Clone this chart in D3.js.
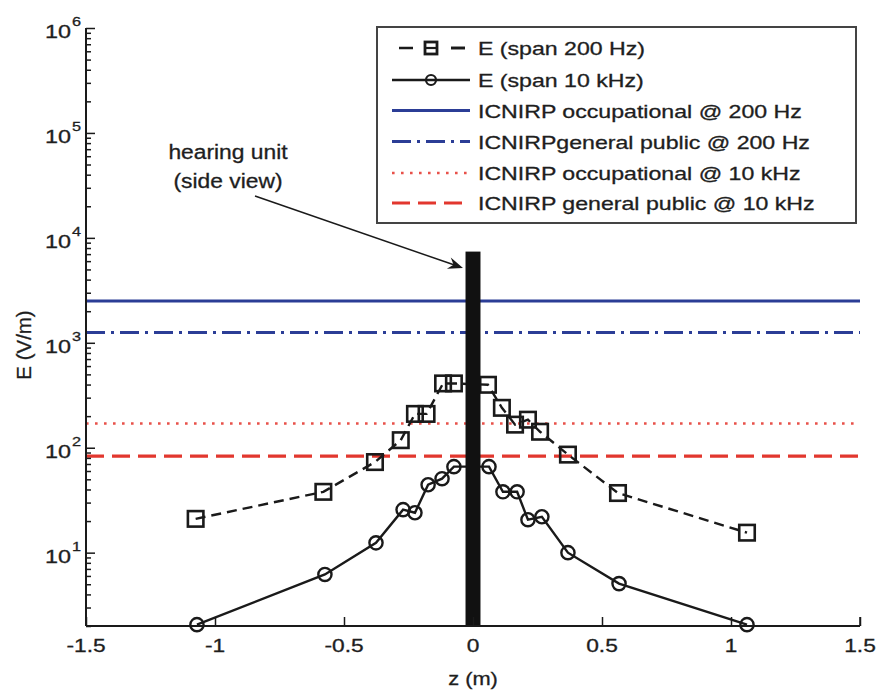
<!DOCTYPE html>
<html>
<head>
<meta charset="utf-8">
<script src="https://cdn.jsdelivr.net/npm/d3@7"></script>
<style>
  body { margin: 0; background: #fff; }
  text { font-family: "Liberation Sans", Arial, sans-serif; fill: #1e1e1e; stroke: #1e1e1e; stroke-width: 0.3; }
</style>
</head>
<body>
<svg id="chart" width="879" height="691"></svg>
<script>
// Field strength along z, 200 Hz span (squares, dashed)
const zSpan200 = [-1.075, -0.58, -0.38, -0.28, -0.225, -0.18, -0.116, -0.074,
                  0.058, 0.112, 0.163, 0.213, 0.26, 0.368, 0.562, 1.062];
const eSpan200 = [21, 38, 73, 118, 210, 210, 410, 410,
                  398, 240, 166, 185, 142, 86, 37, 15.5];

// Field strength along z, 10 kHz span (circles, solid)
const zSpan10k = [-1.07, -0.574, -0.376, -0.271, -0.225, -0.174, -0.12, -0.074,
                  0.062, 0.116, 0.171, 0.213, 0.267, 0.368, 0.566, 1.062];
const eSpan10k = [2.06, 6.2, 12.4, 25.7, 24, 44.4, 50.7, 66,
                  66, 38, 38, 20.6, 22, 10, 5.07, 2.06];

// ICNIRP reference levels (V/m)
const limitNames = ["ICNIRP occupational @ 200 Hz", "ICNIRPgeneral public @ 200 Hz",
                    "ICNIRP occupational @ 10 kHz", "ICNIRP general public @ 10 kHz"];
const limitValues = [2500, 1250, 170, 83];

const seriesNames = ["E (span 200 Hz)", "E (span 10 kHz)"];

// Hearing unit drawn as a block centred on z = 0
const hearingUnitZ = [-0.029, 0.029];
const hearingUnitTop = 7400;

const xTickValues = [-1.5, -1, -0.5, 0, 0.5, 1, 1.5];
const xTickLabels = ["-1.5", "-1", "-0.5", "0", "0.5", "1", "1.5"];
const yTickExponents = [1, 2, 3, 4, 5, 6];

const svg = d3.select("#chart");
const W = 879, H = 691;
const plot = { left: 86, right: 860, top: 28, bottom: 626 };

const x = d3.scaleLinear().domain([-1.5, 1.5]).range([plot.left, plot.right]);
const y = d3.scaleLog().domain([2, 1e6]).range([plot.bottom, plot.top]);

svg.append("rect").attr("width", W).attr("height", H).attr("fill", "#fff");

// Wide text helper: the labels are set with horizontally stretched glyphs
function wideText(parent, px, py, str, size, sx, anchor, rotate) {
  const g = parent.append("g")
    .attr("transform", `translate(${px},${py})` + (rotate ? ` rotate(${rotate})` : "") + ` scale(${sx},1)`);
  return g.append("text")
    .attr("text-anchor", anchor || "start")
    .attr("font-size", size)
    .text(str);
}

const blue = "#2b3d96";
const red = "#e2372e";
const ink = "#1a1a1a";

const limitStyles = [
  { color: blue, width: 3, dash: null },
  { color: blue, width: 3, dash: "19,6,3,6" },
  { color: "#e8514a", width: 2.6, dash: "2.6,6.4" },
  { color: red, width: 3.2, dash: "18,8" }
];

// Reference-level lines
const limitG = svg.append("g");
limitValues.forEach((v, i) => {
  const s = limitStyles[i];
  limitG.append("line")
    .attr("x1", x(-1.5)).attr("x2", x(1.5))
    .attr("y1", y(v)).attr("y2", y(v))
    .attr("stroke", s.color).attr("stroke-width", s.width)
    .attr("stroke-dasharray", s.dash);
});

// Measured series
const line = d3.line().x(d => x(d[0])).y(d => y(d[1]));
const d200 = zSpan200.map((z, i) => [z, eSpan200[i]]);
const d10k = zSpan10k.map((z, i) => [z, eSpan10k[i]]);

svg.append("path").datum(d200).attr("d", line)
  .attr("fill", "none").attr("stroke", ink).attr("stroke-width", 2.4)
  .attr("stroke-dasharray", "10,6");
svg.append("path").datum(d10k).attr("d", line)
  .attr("fill", "none").attr("stroke", ink).attr("stroke-width", 2.4);

const sq = 15.5;
svg.append("g").selectAll("rect").data(d200).join("rect")
  .attr("x", d => x(d[0]) - sq / 2).attr("y", d => y(d[1]) - sq / 2)
  .attr("width", sq).attr("height", sq)
  .attr("fill", "none").attr("stroke", ink).attr("stroke-width", 2.6);
svg.append("g").selectAll("circle").data(d10k).join("circle")
  .attr("cx", d => x(d[0])).attr("cy", d => y(d[1])).attr("r", 6.6)
  .attr("fill", "none").attr("stroke", ink).attr("stroke-width", 2.4);

// Hearing unit block
svg.append("rect")
  .attr("x", x(hearingUnitZ[0]))
  .attr("width", x(hearingUnitZ[1]) - x(hearingUnitZ[0]))
  .attr("y", y(hearingUnitTop))
  .attr("height", plot.bottom - y(hearingUnitTop))
  .attr("fill", "#111");

// Axes (ticks point into the plot)
const xAxis = d3.axisBottom(x).tickValues(xTickValues).tickSize(-9).tickFormat("");
const xg = svg.append("g").attr("transform", `translate(0,${plot.bottom})`).call(xAxis);
const yMajor = yTickExponents.map(e => Math.pow(10, e));
const yMinor = [];
for (let e = 0; e <= 5; e++) for (let m = 2; m <= 9; m++) {
  const v = m * Math.pow(10, e);
  if (v >= 2 && v < 1e6) yMinor.push(v);
}
const ygMinor = svg.append("g").attr("transform", `translate(${plot.left},0)`)
  .call(d3.axisLeft(y).tickValues(yMinor).tickSize(-5).tickFormat(""));
const yg = svg.append("g").attr("transform", `translate(${plot.left},0)`)
  .call(d3.axisLeft(y).tickValues(yMajor).tickSize(-9).tickFormat(""));
[xg, yg, ygMinor].forEach(g => {
  g.selectAll("path.domain").attr("stroke", ink).attr("stroke-width", 2);
  g.selectAll(".tick line").attr("stroke", ink).attr("stroke-width", 1.5);
});
ygMinor.select("path.domain").remove();
xg.select("path.domain").attr("d", `M${plot.left},0H${plot.right}`);
yg.select("path.domain").attr("d", `M0,${plot.top}V${plot.bottom}`);
// short upward cap at the right end of x axis
xg.append("line").attr("x1", plot.right).attr("x2", plot.right).attr("y1", 0).attr("y2", -9)
  .attr("stroke", ink).attr("stroke-width", 1.5);

// Tick labels
const labels = svg.append("g");
xTickValues.forEach((v, i) => {
  wideText(labels, x(v), 652, xTickLabels[i], 17.5, 1.3, "middle");
});
yTickExponents.forEach(e => {
  const ty = y(Math.pow(10, e));
  wideText(labels, 71, ty + 10, "10", 18, 1.3, "end");
  wideText(labels, 72, ty - 2, String(e), 13, 1.25, "start");
});

// Axis titles
wideText(svg, x(0), 685, "z (m)", 19, 1.15, "middle");
wideText(svg, 31, 345, "E (V/m)", 19.5, 1.05, "middle", -90);

// Annotation with arrow
wideText(svg, 228, 159, "hearing unit", 19.5, 1.17, "middle");
wideText(svg, 228, 188, "(side view)", 19.5, 1.17, "middle");
const a0 = [255, 196], a1 = [463, 268];
const dx = a1[0] - a0[0], dy = a1[1] - a0[1], len = Math.hypot(dx, dy);
const ux = dx / len, uy = dy / len, px = -uy, py = ux;
svg.append("line").attr("x1", a0[0]).attr("y1", a0[1])
  .attr("x2", a1[0] - ux * 9).attr("y2", a1[1] - uy * 9)
  .attr("stroke", ink).attr("stroke-width", 1.5);
const head = [
  [a1[0], a1[1]],
  [a1[0] - ux * 15 + px * 6, a1[1] - uy * 15 + py * 6],
  [a1[0] - ux * 10, a1[1] - uy * 10],
  [a1[0] - ux * 15 - px * 6, a1[1] - uy * 15 - py * 6]
];
svg.append("polygon").attr("points", head.map(p => p.join(",")).join(" "))
  .attr("fill", ink);

// Legend
const lg = svg.append("g");
lg.append("rect").attr("x", 377).attr("y", 27).attr("width", 479).attr("height", 196)
  .attr("fill", "#fff").attr("stroke", "#444").attr("stroke-width", 2);
const rowY = [48, 80, 110.5, 141.5, 173, 203];
const names = seriesNames.concat(limitNames);
const lx0 = 392, lx1 = 470, lxm = 431;
// dashed series with square
lg.append("line").attr("x1", 399).attr("x2", 465).attr("y1", rowY[0]).attr("y2", rowY[0])
  .attr("stroke", ink).attr("stroke-width", 2.6).attr("stroke-dasharray", "14,38");
lg.append("line").attr("x1", 451).attr("x2", 465).attr("y1", rowY[0]).attr("y2", rowY[0])
  .attr("stroke", ink).attr("stroke-width", 2.6);
lg.append("rect").attr("x", lxm - 6).attr("y", rowY[0] - 6).attr("width", 12).attr("height", 12)
  .attr("fill", "none").attr("stroke", ink).attr("stroke-width", 2.8);
lg.append("line").attr("x1", lxm - 6).attr("x2", lxm + 6).attr("y1", rowY[0]).attr("y2", rowY[0])
  .attr("stroke", ink).attr("stroke-width", 2.2);
// solid series with circle
lg.append("line").attr("x1", lx0).attr("x2", lx1).attr("y1", rowY[1]).attr("y2", rowY[1])
  .attr("stroke", ink).attr("stroke-width", 2.6);
lg.append("circle").attr("cx", lxm).attr("cy", rowY[1]).attr("r", 5)
  .attr("fill", "none").attr("stroke", ink).attr("stroke-width", 2.2);
limitStyles.forEach((s, i) => {
  lg.append("line").attr("x1", lx0).attr("x2", lx1)
    .attr("y1", rowY[i + 2]).attr("y2", rowY[i + 2])
    .attr("stroke", s.color).attr("stroke-width", s.width)
    .attr("stroke-dasharray", s.dash);
});
names.forEach((n, i) => {
  wideText(lg, 478, rowY[i] + 7, n, 18.5, 1.25, "start");
});
</script>
</body>
</html>
